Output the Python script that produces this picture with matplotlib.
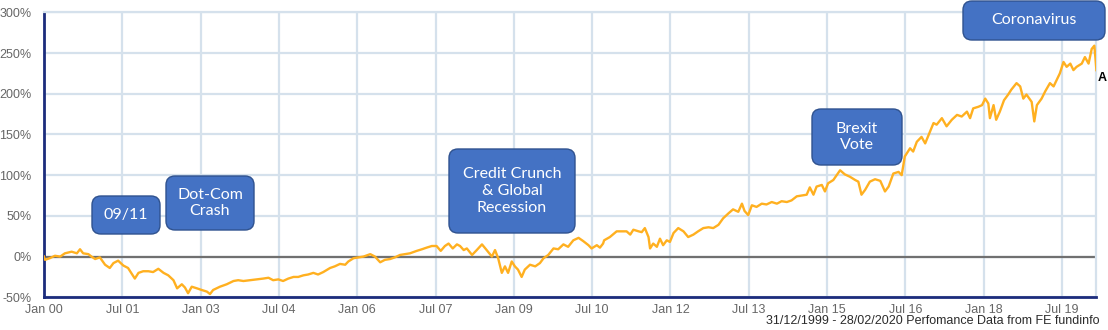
import matplotlib.pyplot as plt
from matplotlib.patches import FancyBboxPatch

# cumulative performance (%) against years elapsed since 31/12/1999
years = [0.00, 0.02, 0.11, 0.21, 0.31, 0.40, 0.53, 0.63, 0.69, 0.75, 0.85, 0.91, 0.98,
         1.07, 1.17, 1.26, 1.33, 1.42, 1.52, 1.61, 1.74, 1.81, 1.90, 2.00, 2.09, 2.19,
         2.29, 2.38, 2.48, 2.55, 2.64, 2.70, 2.76, 2.83, 2.93, 3.02, 3.12, 3.18, 3.24,
         3.37, 3.50, 3.63, 3.72, 3.82, 3.95, 4.07, 4.20, 4.30, 4.39, 4.49, 4.58, 4.68,
         4.78, 4.87, 4.97, 5.06, 5.16, 5.25, 5.35, 5.48, 5.57, 5.67, 5.77, 5.83, 5.93,
         6.02, 6.12, 6.25, 6.34, 6.44, 6.53, 6.63, 6.72, 6.82, 6.92, 7.01, 7.14, 7.24,
         7.33, 7.43, 7.52, 7.60, 7.68, 7.75, 7.83, 7.91, 7.97, 8.04, 8.10, 8.20, 8.29,
         8.39, 8.48, 8.58, 8.64, 8.70, 8.77, 8.83, 8.89, 8.96, 9.02, 9.08, 9.15, 9.21,
         9.31, 9.41, 9.50, 9.57, 9.66, 9.76, 9.85, 9.95, 10.04, 10.14, 10.24, 10.33,
         10.43, 10.49, 10.59, 10.65, 10.71, 10.73, 10.84, 10.97, 11.07, 11.16, 11.23,
         11.29, 11.39, 11.45, 11.51, 11.58, 11.61, 11.67, 11.74, 11.80, 11.86, 11.93,
         11.99, 12.06, 12.15, 12.25, 12.34, 12.44, 12.53, 12.63, 12.73, 12.82, 12.92,
         13.01, 13.11, 13.20, 13.30, 13.37, 13.42, 13.49, 13.56, 13.65, 13.75, 13.84,
         13.94, 14.04, 14.13, 14.23, 14.32, 14.42, 14.52, 14.61, 14.67, 14.74, 14.80,
         14.90, 14.96, 15.02, 15.12, 15.25, 15.34, 15.44, 15.54, 15.60, 15.66, 15.73,
         15.82, 15.92, 16.02, 16.11, 16.18, 16.27, 16.37, 16.43, 16.49, 16.59, 16.65,
         16.72, 16.81, 16.88, 16.97, 17.04, 17.10, 17.20, 17.29, 17.39, 17.49, 17.58,
         17.68, 17.74, 17.80, 17.90, 17.97, 18.03, 18.09, 18.12, 18.19, 18.24, 18.31,
         18.39, 18.47, 18.53, 18.63, 18.70, 18.76, 18.82, 18.92, 18.97, 19.02, 19.11,
         19.18, 19.27, 19.34, 19.40, 19.46, 19.53, 19.59, 19.66, 19.72, 19.78, 19.88,
         19.94, 20.01, 20.07, 20.12, 20.14, 20.16]
perf = [0, -4, -2, 1, 0, 4, 6, 4, 9, 4, 3, 0, -3,
        -1, -10, -14, -8, -5, -11, -14, -27, -20, -18, -18, -19, -15,
        -20, -23, -29, -39, -34, -38, -45, -37, -39, -41, -43, -46, -41,
        -37, -34, -30, -29, -30, -29, -28, -27, -26, -29, -28, -30, -27,
        -25, -25, -23, -22, -20, -22, -19, -14, -12, -9, -10, -6, -2,
        -1, 0, 3, 0, -7, -4, -3, -1, 2, 3, 4, 7, 9,
        11, 13, 13, 7, 13, 16, 10, 15, 13, 8, 10, 2, 8,
        15, 8, 0, 8, -2, -20, -12, -20, -6, -12, -16, -25, -16,
        -10, -12, -8, -2, 2, 10, 9, 15, 12, 20, 23, 19,
        14, 10, 14, 11, 16, 20, 24, 31, 31, 31, 27,
        33, 31, 30, 35, 24, 10, 16, 12, 22, 14, 20,
        18, 29, 35, 31, 24, 27, 31, 35, 36, 35, 39,
        47, 53, 58, 55, 65, 56, 51, 63, 61, 65, 64,
        67, 65, 68, 67, 69, 74, 75, 76, 85, 76, 86,
        88, 80, 90, 94, 106, 101, 98, 94, 92, 76, 82,
        92, 95, 93, 80, 86, 102, 104, 100, 123, 133, 129,
        141, 147, 139, 153, 164, 162, 170, 160, 168, 174, 172,
        178, 170, 182, 184, 186, 194, 188, 170, 186, 168, 178,
        192, 199, 205, 213, 209, 194, 199, 190, 166, 186, 194,
        203, 213, 209, 217, 225, 239, 233, 237, 229, 233, 237,
        245, 237, 255, 259, 245, 229]

tick_years = [0, 1.5, 3, 4.5, 6, 7.5, 9, 10.5, 12, 13.5, 15, 16.5, 18, 19.5]
tick_labels = ['Jan 00', 'Jul 01', 'Jan 03', 'Jul 04', 'Jan 06', 'Jul 07', 'Jan 09',
               'Jul 10', 'Jan 12', 'Jul 13', 'Jan 15', 'Jul 16', 'Jan 18', 'Jul 19']
y_ticks = [-50, 0, 50, 100, 150, 200, 250, 300]

events = ['09/11', 'Dot-Com\nCrash', 'Credit Crunch\n& Global\nRecession',
          'Brexit\nVote', 'Coronavirus']

plt.rcParams['font.family'] = ['Liberation Sans', 'DejaVu Sans']

fig = plt.figure(figsize=(11.08, 3.3), dpi=100)
ax = fig.add_axes([44 / 1108, 32.7 / 330, 1052.4 / 1108, 285 / 330])

grid_c = '#d5e1ec'
ax.plot(years, perf, color='#ffb020', lw=1.7, zorder=3)
ax.axhline(0, color='#707070', lw=1.6, zorder=2)

ax.set_xlim(0, 20.16)
ax.set_ylim(-50, 300)
ax.set_xticks(tick_years)
ax.set_xticklabels(tick_labels)
ax.set_yticks(y_ticks)
ax.set_yticklabels([f'{v}%' for v in y_ticks])
ax.grid(True, color=grid_c, lw=1.6, zorder=0)
ax.tick_params(length=0, labelsize=9, labelcolor='#666666')
ax.tick_params(axis='y', pad=9)
ax.tick_params(axis='x', pad=5)

for s in ['top', 'right']:
    ax.spines[s].set_color(grid_c)
    ax.spines[s].set_linewidth(1.6)
for s in ['left', 'bottom']:
    ax.spines[s].set_color('#1c2c7c')
    ax.spines[s].set_linewidth(2)

# end-of-series marker
ax.annotate('A', (years[-1], perf[-1]), xytext=(1, -6), textcoords='offset points',
            ha='left', va='center', fontsize=9, fontweight='bold', color='black',
            annotation_clip=False)

fig.text(1099 / 1108, 3 / 330, '31/12/1999 - 28/02/2020 Perfomance Data from FE fundinfo',
         ha='right', va='bottom', fontsize=9, color='#2b2b2b')

# event call-outs (x0, x1, top, bottom in pixels from top-left)
boxes = [(92, 160, 196, 234), (166, 254, 176, 230), (449, 575, 149, 233),
         (812, 902, 109, 165), (963, 1105, 1, 40)]
for label, (x0, x1, y0, y1) in zip(events, boxes):
    w = (x1 - x0) / 100
    h = (y1 - y0) / 100
    bx = x0 / 100
    by = 3.3 - y1 / 100
    patch = FancyBboxPatch((bx, by), w, h, boxstyle='round,pad=0,rounding_size=0.09',
                           transform=fig.dpi_scale_trans, facecolor='#4472c4',
                           edgecolor='#2f528f', lw=1.0, zorder=5)
    fig.add_artist(patch)
    fig.text(bx + w / 2, by + h / 2, label, transform=fig.dpi_scale_trans,
             ha='center', va='center', color='white', fontsize=11.5,
             family='Lato', linespacing=1.25, zorder=6)

fig.savefig('out.png', dpi=100)
